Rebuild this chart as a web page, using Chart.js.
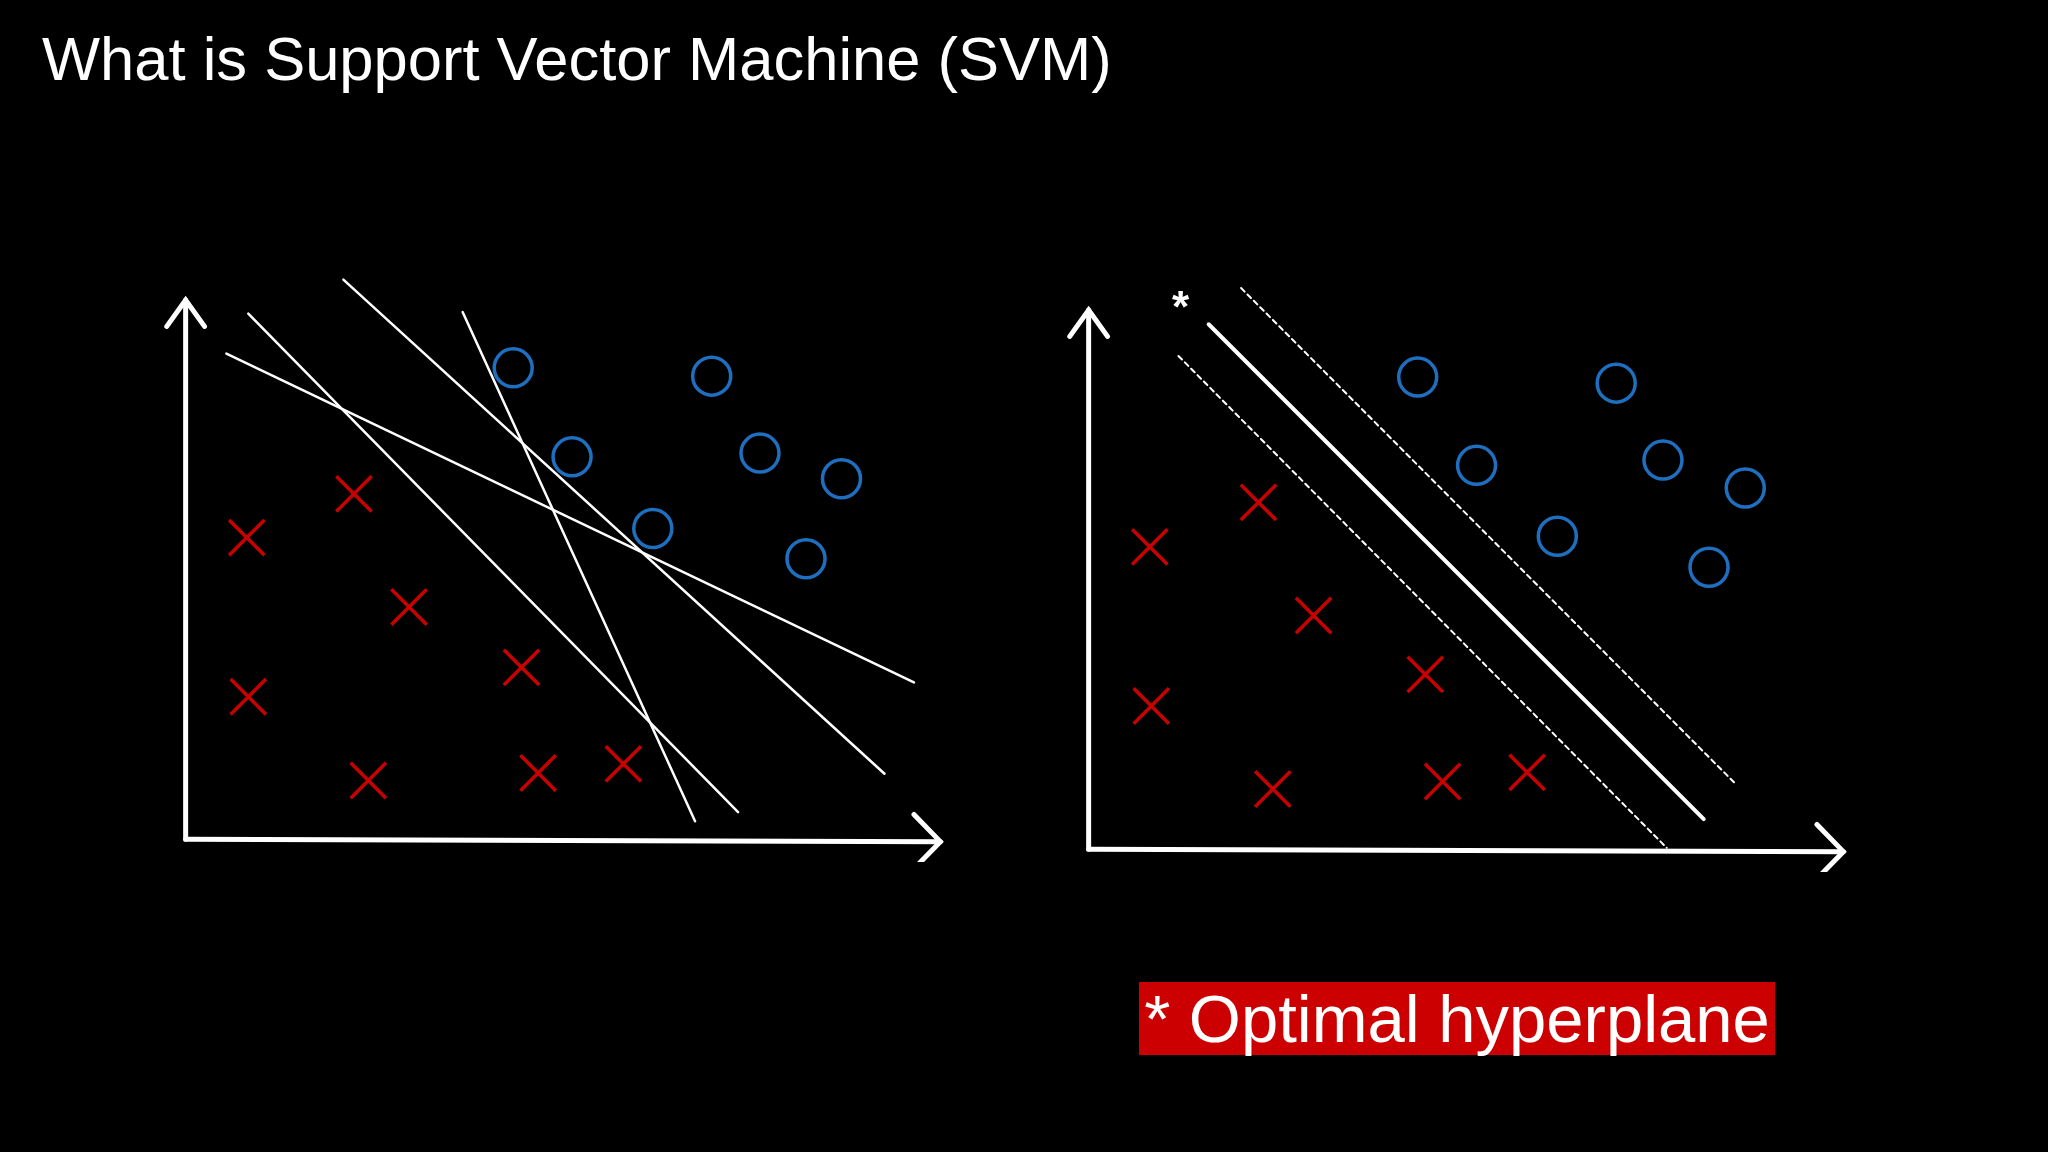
<!DOCTYPE html>
<html>
<head>
<meta charset="utf-8">
<script src="https://cdn.jsdelivr.net/npm/chart.js"></script>
<style>
  html, body { margin: 0; background: #000; width: 2048px; height: 1152px; overflow: hidden; }
  .title { position: absolute; left: 42px; top: 23px; color: #fff; font: 61.5px "Liberation Sans", Arial, sans-serif; }
  .panel { position: absolute; width: 800px; height: 596px; top: 266px; }
  #left { left: 163px; }
  #right { left: 1066px; top: 276px; }
  .star { position: absolute; left: 1172px; top: 282px; color: #fff; font: bold 44px "Liberation Sans", sans-serif; }
  .label { position: absolute; left: 1139px; top: 982px; width: 636px; height: 73px; background: #cc0000;
           color: #fff; font: 67px "Liberation Sans", Arial, sans-serif; line-height: 73px; text-align: center; }
</style>
</head>
<body>
<div class="title">What is Support Vector Machine (SVM)</div>
<div class="panel" id="left"><canvas id="leftChart"></canvas></div>
<div class="panel" id="right"><canvas id="rightChart"></canvas></div>
<div class="star">*</div>
<div class="label">* Optimal hyperplane</div>
<script>
// class A (red crosses) and class B (blue circles), same layout in both panels
const crossesLeft = [[0.81,4.00],[2.23,4.58],[2.96,3.08],[0.83,1.89],[4.45,2.28],[2.42,0.78],[4.67,0.88],[5.80,1.00]];
const circlesLeft = [[4.34,6.25],[6.97,6.14],[5.12,5.07],[7.61,5.12],[8.69,4.78],[6.19,4.12],[8.22,3.72]];
const crossesRight = [[0.81,4.01],[2.25,4.60],[2.98,3.10],[0.83,1.90],[4.46,2.32],[2.44,0.80],[4.69,0.90],[5.81,1.02]];
const circlesRight = [[4.36,6.26],[6.99,6.18],[5.14,5.09],[7.61,5.16],[8.70,4.79],[6.21,4.15],[8.22,3.74]];

// candidate separating lines on the left
const candidateLines = [
  [[0.54,6.44],[9.65,2.08]],
  [[0.83,6.97],[7.32,0.36]],
  [[2.09,7.42],[9.26,0.87]],
  [[3.67,6.99],[6.75,0.24]]
];
// optimal hyperplane and margins on the right
const hyperplane = [[1.59,6.96],[8.15,0.40]];
const marginLines = [
  [[2.02,7.44],[8.56,0.88]],
  [[1.19,6.54],[7.66,0.02]]
];

const xAxisLine = [[0,0],[10,-0.03]];
const xArrowHead = [[9.65,0.33],[10,-0.03],[9.65,-0.39]];
const yAxisLine = [[0,0],[0,7.15]];
const yArrowHead = [[-0.25,6.8],[0,7.15],[0.25,6.8]];

const pts = a => a.map(p => ({ x: p[0], y: p[1] }));

function lineSet(arr, width, dash) {
  return { type: 'line', data: pts(arr), borderColor: '#fff', borderWidth: width, clip: false,
           borderDash: dash || [], pointRadius: 0, fill: false, tension: 0, borderCapStyle: 'round' };
}

function axesSets() {
  return [lineSet(xAxisLine, 5), lineSet(xArrowHead, 5), lineSet(yAxisLine, 5), lineSet(yArrowHead, 5)];
}

function markers(crosses, circles) {
  return [
    { type: 'scatter', data: pts(crosses), pointStyle: 'crossRot', pointRadius: 25, clip: false,
      borderColor: '#c80000', borderWidth: 3.5 },
    { type: 'scatter', data: pts(circles), pointStyle: 'circle', pointRadius: 19, clip: false,
      borderColor: '#1f6fc0', backgroundColor: 'rgba(0,0,0,0)', borderWidth: 3.5 }
  ];
}

function makeChart(id, datasets) {
  new Chart(document.getElementById(id), {
    type: 'scatter',
    data: { datasets: datasets },
    options: {
      responsive: true,
      maintainAspectRatio: false,
      animation: false,
      layout: { padding: 0, autoPadding: false },
      plugins: { legend: { display: false }, tooltip: { enabled: false } },
      scales: {
        x: { type: 'linear', min: -0.3, max: 10.3, display: false },
        y: { type: 'linear', min: -0.3, max: 7.6, display: false }
      }
    }
  });
}

makeChart('leftChart', [
  ...axesSets(),
  ...candidateLines.map(l => lineSet(l, 2.5)),
  ...markers(crossesLeft, circlesLeft)
]);

makeChart('rightChart', [
  ...axesSets(),
  lineSet(hyperplane, 4),
  ...marginLines.map(l => lineSet(l, 2, [5, 4])),
  ...markers(crossesRight, circlesRight)
]);
</script>
</body>
</html>
